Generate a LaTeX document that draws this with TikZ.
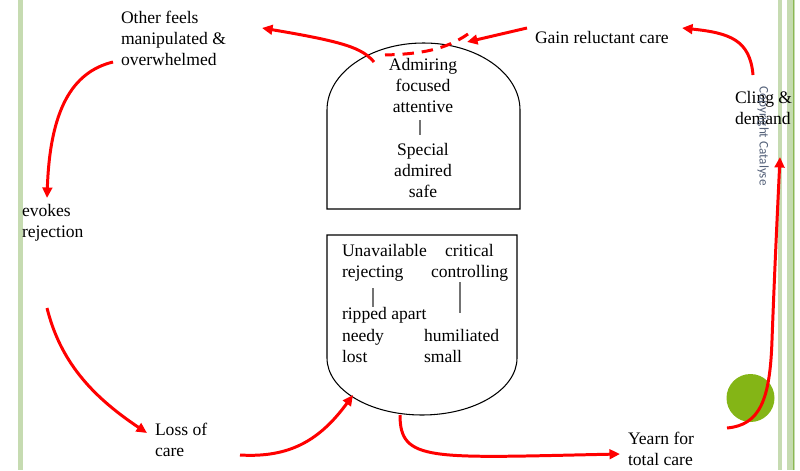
\documentclass[tikz,border=0pt]{standalone}
\usepackage{fontspec}
\setmainfont{Liberation Serif}
\newfontfamily\notefont{Carlito}
\usetikzlibrary{arrows.meta}
\definecolor{flowred}{HTML}{FF0000}
\definecolor{paleleaf}{HTML}{C6DBB1}
\definecolor{leaf}{HTML}{8CB852}
\definecolor{dotgreen}{HTML}{84B516}
\definecolor{notegray}{HTML}{55627A}

\begin{document}
\begin{tikzpicture}[x=0.02cm,y=-0.02cm,
  every node/.style={inner sep=0pt, outer sep=0pt, font=\fontsize{10}{11.9}\selectfont},
  % multi-line labels are placed by the baseline of their last line
  label/.style={align=left, anchor=base west},
  word/.style={anchor=base west},
  midtext/.style={align=center, anchor=base},
  flow/.style={draw=flowred, line width=1.7pt, -{Triangle[length=6pt,width=5.5pt]}},
  flowdash/.style={draw=flowred, line width=1.7pt, dash pattern=on 6.5pt off 4.5pt},
  outline/.style={draw=black, line width=0.6pt},
  sepline/.style={draw=black!55, line width=0.6pt},
]
\useasboundingbox (0,0) rectangle (800,470);

% page border bands
\fill[paleleaf] (18,0) rectangle (23,470);
\fill[paleleaf] (778,0) rectangle (782,470);
\fill[paleleaf] (787,0) rectangle (795,470);
\fill[leaf] (792.5,0) rectangle (793.7,470);

% upper (arched) state
\draw[outline] (327,209) -- (327,110)
  .. controls (327,73) and (370.2,43) .. (423.5,43)
  .. controls (476.8,43) and (520,73) .. (520,110)
  -- (520,209) -- cycle;

% lower (rounded bottom) state
\draw[outline] (327,235) -- (517,235) -- (517,358)
  .. controls (517,389.5) and (474.5,415) .. (422,415)
  .. controls (369.5,415) and (327,389.5) .. (327,358) -- cycle;

% texts inside the upper state
\node[midtext] (admire) at (423,112) {Admiring\\focused\\attentive};
\node[midtext] (special) at (423,197) {Special\\admired\\safe};
\draw[sepline] (420,120) -- (420,135);

% texts inside the lower state
\node[word] (unavail) at (342,256) {Unavailable};
\node[word] (critical) at (445,256) {critical};
\node[word] (reject) at (342,277) {rejecting};
\node[word] (control) at (431,277) {controlling};
\node[word] (ripped) at (342,319) {ripped apart};
\node[word] (needy) at (342,341) {needy};
\node[word] (humil) at (424,341) {humiliated};
\node[word] (lost) at (342,362) {lost};
\node[word] (small) at (424,362) {small};
\draw[sepline] (373,288) -- (373,307);
\draw[sepline] (460,282) -- (460,313);

% cycle labels
\node[label] (other) at (121,65) {Other feels\\manipulated \&\\overwhelmed};
\node[label] (gain) at (535,43) {Gain reluctant care};
\node[label] (cling) at (735,124) {Cling \&\\demand};
\node[label] (evokes) at (22,237) {evokes\\rejection};
\node[label] (loss) at (155,456) {Loss of\\care};
\node[label] (yearn) at (628,465) {Yearn for\\total care};

\node[font=\notefont\fontsize{7.5}{9}\selectfont, text=notegray, rotate=-90] (copy) at (763,136) {Copyright Catalyse};

% marker dot
\fill[dotgreen] (750.5,398) circle (24);

% connector end points
\coordinate (gainOut) at (527,28);
\coordinate (archIn) at (467,42);
\coordinate (dashA) at (468,34);
\coordinate (dashB) at (385,55);
\coordinate (archOut) at (374,62);
\coordinate (otherIn) at (262,28);
\coordinate (otherOut) at (113,62);
\coordinate (evokesIn) at (47,198);
\coordinate (evokesOut) at (47,308);
\coordinate (lossIn) at (147,433);
\coordinate (lossOut) at (240,455);
\coordinate (bowlIn) at (353,395);
\coordinate (bowlOut) at (400,415);
\coordinate (yearnIn) at (620,454);
\coordinate (dotOut) at (727,428);
\coordinate (clingIn) at (780,157);
\coordinate (clingOut) at (753,75);
\coordinate (gainIn) at (682,28);

% the cycle
\draw[flow] (gainOut) -- (archIn);
\draw[flowdash] (dashA) .. controls (445,50) and (420,54) .. (dashB);
\draw[flow] (archOut) .. controls (362,48) and (345,42) .. (otherIn);
\draw[flow] (otherOut) .. controls (72,72) and (50,110) .. (evokesIn);
\draw[flow] (evokesOut) .. controls (60,360) and (90,395) .. (lossIn);
\draw[flow] (lossOut) .. controls (290,458) and (320,440) .. (bowlIn);
\draw[flow] (bowlOut) .. controls (400,462) and (430,458) .. (yearnIn);
\draw[flow] (dotOut) .. controls (760,425) and (770,400) .. (772,340)
  .. controls (775,260) and (778,200) .. (clingIn);
\draw[flow] (clingOut) .. controls (750,40) and (730,33) .. (gainIn);
\end{tikzpicture}
\end{document}
